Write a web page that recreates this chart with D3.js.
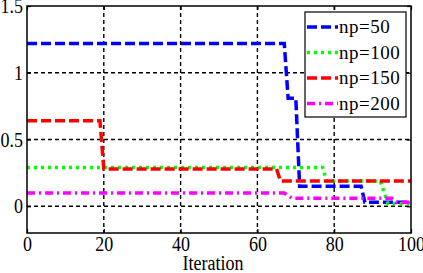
<!DOCTYPE html>
<html>
<head>
<meta charset="utf-8">
<script src="https://cdn.jsdelivr.net/npm/d3@7"></script>
<style>
    body { margin: 0; background: #fff; }
    text { font-family: "Liberation Serif", "Times New Roman", serif; fill: #000; }
</style>
</head>
<body>
<div id="chart"></div>
<script>
// series: iteration breakpoints and fitness values (lines join the points)
const np50Iter = [0, 67, 68, 70, 71, 87, 88, 100];
const np50Val = [1.22, 1.22, 0.81, 0.81, 0.15, 0.15, 0.03, 0.03];

const np100Iter = [0, 77, 78, 92, 94, 100];
const np100Val = [0.29, 0.29, 0.19, 0.19, 0.02, 0.02];

const np150Iter = [0, 19, 20, 65, 66, 100];
const np150Val = [0.64, 0.64, 0.28, 0.28, 0.19, 0.19];

const np200Iter = [0, 67, 69, 95, 96, 100];
const np200Val = [0.10, 0.10, 0.06, 0.06, 0.03, 0.03];

const seriesNames = ["np=50", "np=100", "np=150", "np=200"];
const xTicks = [0, 20, 40, 60, 80, 100];
const yTicks = [0, 0.5, 1, 1.5];
const xLabel = "Iteration";

class LineChart {
    constructor(_config, _data) {
        this.config = {
            parentElement: _config.parentElement,
            containerWidth: 423,
            containerHeight: 273,
            margin: { top: 6, right: 12, bottom: 40, left: 27 }
        }
        this.data = _data;
        this.initVis();
    }

    initVis() {
        let vis = this;

        vis.config.width = vis.config.containerWidth - vis.config.margin.left - vis.config.margin.right;
        vis.config.height = vis.config.containerHeight - vis.config.margin.top - vis.config.margin.bottom;

        vis.svg = d3.select(vis.config.parentElement)
            .append("svg")
            .attr("width", vis.config.containerWidth)
            .attr("height", vis.config.containerHeight)
            .append("g")
            .attr("transform", `translate(${vis.config.margin.left},${vis.config.margin.top})`);

        vis.xScale = d3.scaleLinear().domain([0, 100]).range([0, vis.config.width]);
        vis.yScale = d3.scaleLinear().domain([-0.2, 1.5]).range([vis.config.height, 0]);

        // dashed grid
        vis.svg.append("g").attr("class", "grid")
            .selectAll("line.gx")
            .data(xTicks.filter(d => d > 0 && d < 100))
            .join("line")
            .attr("x1", d => vis.xScale(d)).attr("x2", d => vis.xScale(d))
            .attr("y1", 0).attr("y2", vis.config.height);
        vis.svg.select(".grid")
            .selectAll("line.gy")
            .data(yTicks.filter(d => d < 1.5))
            .join(enter => enter.append("line").attr("class", "gy"))
            .attr("x1", 0).attr("x2", vis.config.width)
            .attr("y1", d => vis.yScale(d)).attr("y2", d => vis.yScale(d));
        vis.svg.selectAll(".grid line")
            .attr("stroke", "#000")
            .attr("stroke-width", 1.4)
            .attr("stroke-dasharray", "4,3");

        vis.updateVis();
    }

    updateVis() {
        let vis = this;
        const w = vis.config.width, h = vis.config.height;

        const line = d3.line()
            .x(d => vis.xScale(d[0]))
            .y(d => vis.yScale(d[1]));

        vis.svg.selectAll(".series")
            .data(vis.data)
            .join("path")
            .attr("class", "series")
            .attr("fill", "none")
            .attr("stroke", d => d.color)
            .attr("stroke-width", 3.5)
            .attr("stroke-dasharray", d => d.dash)
            .attr("d", d => line(d.iter.map((x, i) => [x, d.val[i]])));

        // axes with inward ticks
        const xAxis = d3.axisBottom(vis.xScale).tickValues(xTicks).tickSize(-4).tickPadding(0);
        const xTop = d3.axisTop(vis.xScale).tickValues(xTicks).tickSize(-4).tickFormat("");
        const yAxis = d3.axisLeft(vis.yScale).tickValues(yTicks).tickSize(-4).tickPadding(0);
        const yRight = d3.axisRight(vis.yScale).tickValues(yTicks).tickSize(-4).tickFormat("");

        const gx = vis.svg.append("g").attr("transform", `translate(0,${h})`).call(xAxis);
        vis.svg.append("g").call(xTop);
        const gy = vis.svg.append("g").call(yAxis);
        vis.svg.append("g").attr("transform", `translate(${w},0)`).call(yRight);

        vis.svg.selectAll(".domain").remove();
        vis.svg.selectAll(".tick line").attr("stroke", "#000").attr("stroke-width", 1.2);

        gx.selectAll(".tick text")
            .attr("y", 15)
            .attr("dy", 0)
            .attr("transform", "scale(1,1.2)")
            .style("font-size", "18px");

        gy.selectAll(".tick text")
            .attr("x", -4)
            .attr("dy", "0.3em")
            .attr("transform", "scale(1,1.2)")
            .style("font-size", "18px")
            .text(d => d3.format("")(d));
        gy.selectAll(".tick").each(function(d) {
            d3.select(this).select("text").attr("y", 0);
        });

        // box
        vis.svg.append("rect")
            .attr("width", w).attr("height", h)
            .attr("fill", "none").attr("stroke", "#000").attr("stroke-width", 1.5);

        vis.svg.append("text")
            .attr("text-anchor", "middle")
            .attr("transform", `translate(${w / 2 - 6},${h + 37}) scale(1,1.2)`)
            .style("font-size", "18px")
            .text(xLabel);

        // legend
        const lg = vis.svg.append("g").attr("transform", `translate(${w - 106},6)`);
        lg.append("rect")
            .attr("width", 101).attr("height", 105)
            .attr("fill", "#fff").attr("stroke", "#000").attr("stroke-width", 1.2);
        const rows = lg.selectAll(".entry")
            .data(vis.data)
            .join("g")
            .attr("class", "entry")
            .attr("transform", (d, i) => `translate(0,${15 + i * 25.5})`);
        rows.append("line")
            .attr("x1", 2).attr("x2", 33)
            .attr("stroke", d => d.color)
            .attr("stroke-width", 3.5)
            .attr("stroke-dasharray", d => d.dash);
        rows.append("text")
            .attr("x", 34)
            .attr("y", 6)
            .style("font-size", "19px")
            .style("letter-spacing", "0.5px")
            .text(d => d.name);
    }
}

const data = [
    { name: seriesNames[0], iter: np50Iter, val: np50Val, color: "#0000ff", dash: "10,4" },
    { name: seriesNames[1], iter: np100Iter, val: np100Val, color: "#00ff00", dash: "3,4" },
    { name: seriesNames[2], iter: np150Iter, val: np150Val, color: "#ff0000", dash: "10,4" },
    { name: seriesNames[3], iter: np200Iter, val: np200Val, color: "#ff00ff", dash: "8,4,2,4" }
];

new LineChart({ parentElement: "#chart" }, data);
</script>
</body>
</html>
